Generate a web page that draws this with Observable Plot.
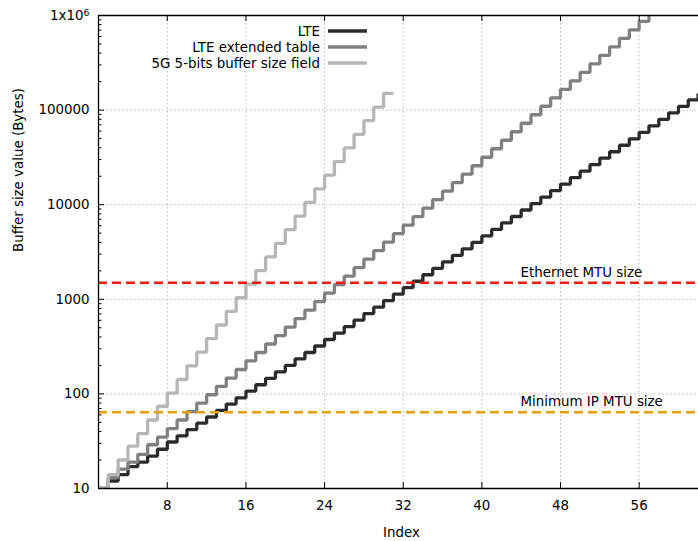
<!DOCTYPE html>
<html><head><meta charset="utf-8">
<script src="https://cdn.jsdelivr.net/npm/d3@7"></script>
<script src="https://cdn.jsdelivr.net/npm/@observablehq/plot@0.6"></script>
<style>body{margin:0;background:#fff} svg{display:block}</style>
</head><body><div id="chart"></div>
<script>
// Buffer size upper bounds (bytes) per index, starting at index 1
const lteValues = [10,12,14,17,19,22,26,31,36,42,49,57,67,78,91,107,125,146,171,200,234,274,321,376,440,515,603,706,826,967,1132,1326,1552,1817,2127,2490,2915,3413,3995,4677,5476,6411,7505,8787,10287,12043,14099,16507,19325,22624,26487,31009,36304,42502,49759,58255,68201,79846,93479,109439,128125,150000];
const lteExtValues = [10,13,16,19,23,29,35,43,53,65,80,98,120,147,181,223,274,337,414,509,625,769,945,1162,1429,1757,2161,2657,3267,4017,4940,6074,7469,9185,11294,13888,17077,20999,25822,31752,39045,48012,59039,72598,89272,109774,134986,165989,204111,250990,308634,379519,466683,573866,705666,867737,1067031];
const nr5bitValues = [10,14,20,28,38,53,74,102,142,198,276,384,535,745,1038,1446,2014,2806,3909,5446,7587,10570,14726,20516,28581,39818,55474,77284,107669,150000,150000];
const seriesNames = ["LTE","LTE extended table","5G 5-bits buffer size field"];
const seriesColors = ["#2b2b2b","#808080","#b6b6b6"];
const refNames = ["Ethernet MTU size","Minimum IP MTU size"];
const refValues = [1500, 64];
const refColors = ["#e51e10","#e69f00"];
const xTicks = [8,16,24,32,40,48,56];
const yTicks = [10,100,1000,10000,100000,1000000];
const yTickLabels = ["10","100","1000","10000","100000","1x10^6"];
const xTitle = "Index";
const yTitle = "Buffer size value (Bytes)";

const W = 698, H = 541, mL = 98, mT = 15, mB = 53, mR = 0;
const innerW = W - mL - mR, innerH = H - mT - mB;
const font = "'DejaVu Sans', sans-serif";
const fs = 13.4;
const minorTicks = [];
for (let e = 1; e < 6; e++) for (let m = 2; m < 10; m++) minorTicks.push(m * 10 ** e);
const yLabelMap = new Map(yTicks.map((t, i) => [t, yTickLabels[i]]));

const seriesData = [lteValues, lteExtValues, nr5bitValues].map(vals => vals.map((v, i) => ({index: i + 1, value: v})));

const gridStyle = {stroke: "#b8b8b8", strokeOpacity: 1, strokeWidth: 1, strokeDasharray: "1.5,2.5"};

const plot = Plot.plot({
  width: W, height: H,
  marginLeft: mL, marginTop: mT, marginBottom: mB, marginRight: mR,
  style: {fontFamily: font, fontSize: fs + "px", color: "#000", background: "#fff", overflow: "visible"},
  x: {domain: [1, 62.04]},
  y: {type: "log", domain: [10, 1e6]},
  marks: [
    Plot.gridX(xTicks, gridStyle),
    Plot.gridY(yTicks, gridStyle),
    ...seriesData.map((d, s) => Plot.line(d, {
      x: "index", y: "value", curve: "step-after",
      stroke: seriesColors[s], strokeWidth: 3.3, strokeLinejoin: "miter", strokeLinecap: "butt", clip: true
    })),
    ...refValues.map((v, i) => Plot.ruleY([v], {stroke: refColors[i], strokeWidth: 2.5, strokeDasharray: "9,5"})),
    Plot.text(refValues.map((v, i) => ({v, n: refNames[i]})), {
      y: "v", text: "n", frameAnchor: "right", dx: -178, dy: -6,
      textAnchor: "start", lineAnchor: "bottom", fontSize: fs, fill: "#000"
    }),
    // axes lines
    Plot.ruleY([10], {stroke: "#000", strokeWidth: 1.3}),
    Plot.ruleY([1e6], {stroke: "#000", strokeWidth: 1.3}),
    Plot.ruleX([1], {stroke: "#000", strokeWidth: 1.3}),
    // ticks (inward)
    Plot.ruleX(xTicks, {insetTop: innerH - 6, stroke: "#000"}),
    Plot.ruleX(xTicks, {insetBottom: innerH - 6, stroke: "#000"}),
    Plot.ruleY(yTicks, {insetRight: innerW - 6, stroke: "#000"}),
    Plot.ruleY(minorTicks, {insetRight: innerW - 3.5, stroke: "#000"}),
    Plot.axisX(xTicks, {anchor: "bottom", tickSize: 0, tickPadding: 12, fontSize: fs, label: null, fill: "#000"}),
    Plot.axisY(yTicks, {anchor: "left", tickSize: 0, tickPadding: 9, fontSize: fs, label: null, fill: "#000",
      tickFormat: d => yLabelMap.get(d)}),
    Plot.text([xTitle], {text: d => d, frameAnchor: "bottom", dy: 48, dx: 3, lineAnchor: "bottom", fontSize: fs, fill: "#000"}),
    Plot.text([yTitle], {text: d => d, frameAnchor: "left", dx: -80, rotate: -90, lineAnchor: "middle", fontSize: fs, fill: "#000"})
  ]
});

const svg = d3.select(plot);
// superscript for 1x10^6
svg.selectAll("text").filter(function () { return this.textContent === "1x10^6"; })
  .each(function () {
    const t = d3.select(this);
    t.text("1x10");
    t.append("tspan").attr("dy", "-0.45em").attr("font-size", "70%").text("6");
  });

// legend (gnuplot-style key)
const key = svg.append("g").attr("font-family", font).attr("font-size", fs);
seriesNames.forEach((name, i) => {
  const cy = 31 + i * 16;
  key.append("text").attr("x", 320).attr("y", cy).attr("dy", "0.36em")
    .attr("text-anchor", "end").attr("fill", "#000").text(name);
  key.append("line").attr("x1", 328).attr("x2", 367).attr("y1", cy).attr("y2", cy)
    .attr("stroke", seriesColors[i]).attr("stroke-width", 3.3);
});

document.getElementById("chart").appendChild(plot);
</script>
</body></html>
